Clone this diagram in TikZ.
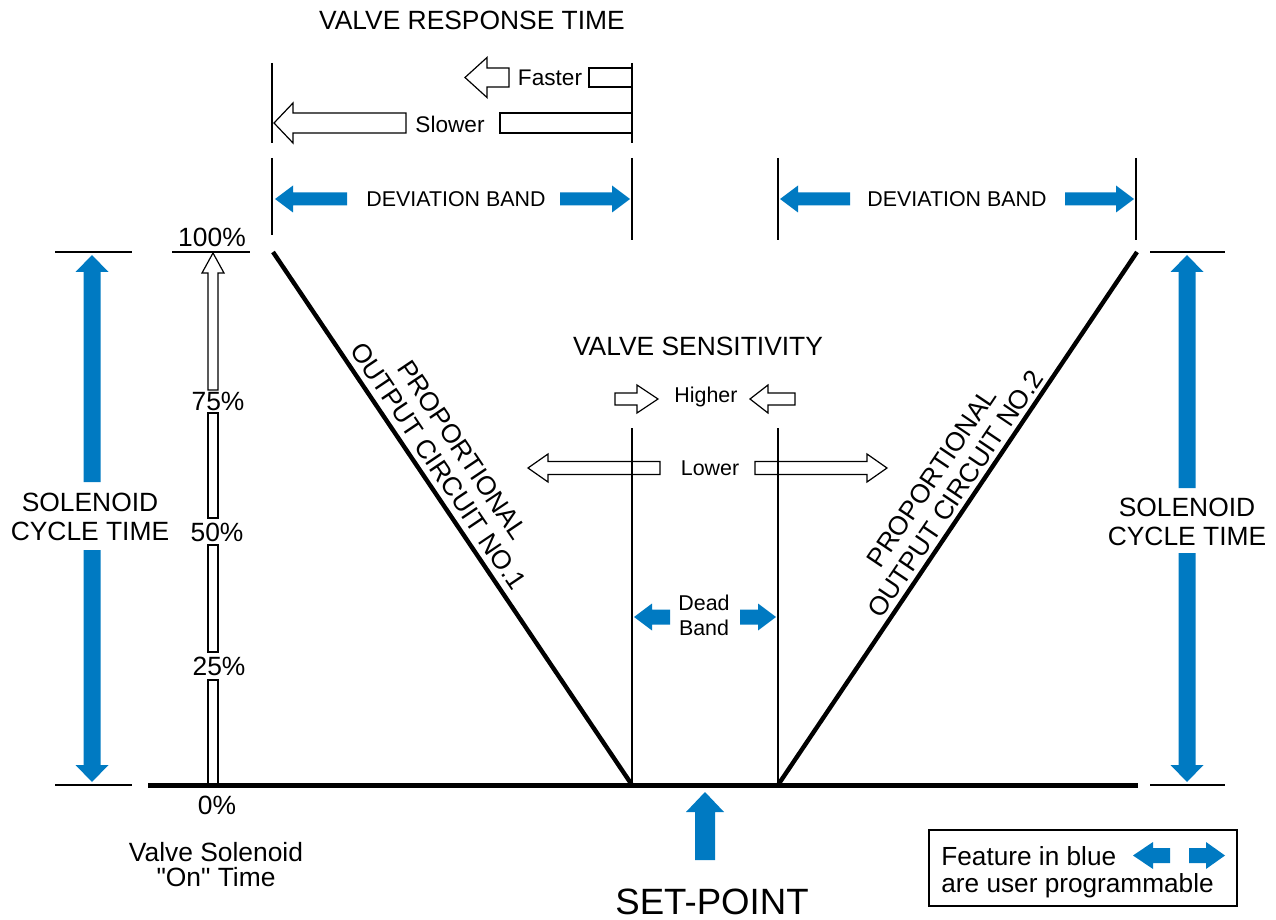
\documentclass[tikz,border=0pt]{standalone}
\usepackage{fontspec}
\setmainfont{Liberation Sans}[Ligatures=TeXOff]
\usepackage{tikz}
\definecolor{progblue}{RGB}{0,122,194}
\newcommand{\txtbig}{\fontsize{13.2}{14.5}\selectfont}
\newcommand{\txtmed}{\fontsize{10.7}{12.5}\selectfont}
\newcommand{\txtset}{\fontsize{18.3}{20}\selectfont}

\begin{document}
\begin{tikzpicture}[x=0.5pt,y=-0.5pt,
  bluearrow/.style={fill=progblue,draw=none},
  hollow/.style={draw,line width=0.6pt,fill=white,line join=miter},
  guide/.style={line width=0.6pt},
  circuitline/.style={line width=2.2pt},
  axisline/.style={line width=2.5pt},
  lbl/.style={font=\txtbig,inner sep=0pt,align=center},
  lblmed/.style={font=\txtmed,inner sep=0pt,align=center}]
\useasboundingbox (0,0) rectangle (1276,920);
% response time arrows
\draw [hollow] (465,77.5) -- (487,57.5) -- (487,68) -- (509,68) -- (509,87) -- (487,87) -- (487,97.5) -- cycle;
\draw [hollow] (589,68) rectangle (632,87);
\draw [hollow] (274,123) -- (293,103) -- (293,113) -- (406,113) -- (406,133) -- (293,133) -- (293,143) -- cycle;
\draw [hollow] (500,113) rectangle (632,133);
\draw [guide] (272,63) -- (272,143);
\draw [guide] (632,63) -- (632,143);
% deviation bands
\draw [guide] (272,158) -- (272,235);
\draw [guide] (632,158) -- (632,240);
\draw [guide] (778,158) -- (778,240);
\draw [guide] (1136,158) -- (1136,240);
\fill [bluearrow] (275,199) -- (293,185.5) -- (293,192.5) -- (347,192.5) -- (347,205.5) -- (293,205.5) -- (293,212.5) -- cycle;
\fill [bluearrow] (560,192.5) -- (612,192.5) -- (612,185.5) -- (630,199) -- (612,212.5) -- (612,205.5) -- (560,205.5) -- cycle;
\fill [bluearrow] (780,199) -- (798,185.5) -- (798,192.5) -- (850,192.5) -- (850,205.5) -- (798,205.5) -- (798,212.5) -- cycle;
\fill [bluearrow] (1065,192.5) -- (1116,192.5) -- (1116,185.5) -- (1134,199) -- (1116,212.5) -- (1116,205.5) -- (1065,205.5) -- cycle;
% sensitivity arrows
\draw [hollow] (615,393) -- (637,393) -- (637,385) -- (658,399) -- (637,413) -- (637,405) -- (615,405) -- cycle;
\draw [hollow] (750,399) -- (768,385) -- (768,393) -- (795,393) -- (795,405) -- (768,405) -- (768,413) -- cycle;
\draw [hollow] (528,468) -- (548,454) -- (548,461.5) -- (660,461.5) -- (660,474.5) -- (548,474.5) -- (548,482) -- cycle;
\draw [hollow] (755,461.5) -- (867,461.5) -- (867,454) -- (887,468) -- (867,482) -- (867,474.5) -- (755,474.5) -- cycle;
\draw [guide] (632,428) -- (632,785);
\draw [guide] (778,428) -- (778,785);
% dead band
\fill [bluearrow] (634,617) -- (652,603.5) -- (652,609.5) -- (670,609.5) -- (670,624.5) -- (652,624.5) -- (652,630.5) -- cycle;
\fill [bluearrow] (740,609.5) -- (758,609.5) -- (758,603.5) -- (776,617) -- (758,630.5) -- (758,624.5) -- (740,624.5) -- cycle;
% on time scale
\draw [hollow] (213,253) -- (224,273) -- (218,273) -- (218,390) -- (208,390) -- (208,273) -- (202,273) -- cycle;
\draw [hollow] (208,413) rectangle (218,518);
\draw [hollow] (208,545) rectangle (218,652);
\draw [hollow] (208,680) rectangle (218,785);
% cycle time
\draw [guide] (55,252) -- (132,252);
\draw [guide] (172,252) -- (250,252);
\draw [guide] (55,785) -- (132,785);
\draw [guide] (1150,252) -- (1225,252);
\draw [guide] (1150,785) -- (1225,785);
\fill [bluearrow] (92,255) -- (108.5,272) -- (100.5,272) -- (100.5,482) -- (83.5,482) -- (83.5,272) -- (75.5,272) -- cycle;
\fill [bluearrow] (83.5,550) -- (100.5,550) -- (100.5,765) -- (108.5,765) -- (92,782) -- (75.5,765) -- (83.5,765) -- cycle;
\fill [bluearrow] (1187,255) -- (1203.5,272) -- (1195.5,272) -- (1195.5,488) -- (1178.5,488) -- (1178.5,272) -- (1170.5,272) -- cycle;
\fill [bluearrow] (1178.5,553) -- (1195.5,553) -- (1195.5,765) -- (1203.5,765) -- (1187,782) -- (1170.5,765) -- (1178.5,765) -- cycle;
% output circuits
\draw [axisline] (148,785) -- (1138,785);
\draw [circuitline] (273,252) -- node[pos=0.42,sloped,above,lbl,inner sep=3pt] (circone) {PROPORTIONAL\\OUTPUT CIRCUIT NO.1} (632,785);
\draw [circuitline] (778,785) -- node[pos=0.53,sloped,above,lbl,inner sep=2pt] (circtwo) {PROPORTIONAL\\OUTPUT CIRCUIT NO.2} (1137,252);
% set point
\fill [bluearrow] (705,792) -- (724,812) -- (715,812) -- (715,860) -- (695,860) -- (695,812) -- (686,812) -- cycle;
% legend
\draw [guide] (929,830) rectangle (1237,906);
\fill [bluearrow] (1133,855.5) -- (1153,842) -- (1153,848) -- (1170,848) -- (1170,863) -- (1153,863) -- (1153,869) -- cycle;
\fill [bluearrow] (1189,848) -- (1206,848) -- (1206,842) -- (1225,855.5) -- (1206,869) -- (1206,863) -- (1189,863) -- cycle;
% texts
\node [lbl] (resp) at (472,20) {VALVE RESPONSE TIME};
\node [lblmed,font=\fontsize{11.3}{12.5}\selectfont] (faster) at (550,78) {Faster};
\node [lblmed,font=\fontsize{11.3}{12.5}\selectfont] (slower) at (450,124) {Slower};
\node [lblmed] (devone) at (456,199) {DEVIATION BAND};
\node [lblmed] (devtwo) at (957,199) {DEVIATION BAND};
\node [lbl] (sens) at (698,346) {VALVE SENSITIVITY};
\node [lblmed] (higher) at (706,397) {Higher};
\node [lblmed] (lower) at (710,468) {Lower};
\node [lblmed] (dead) at (704,615) {Dead\\Band};
\node [lbl] (pcent) at (212,237) {100\%};
\node [lbl] (pseventy) at (218,401) {75\%};
\node [lbl] (pfifty) at (217,532) {50\%};
\node [lbl] (ptwenty) at (219,666) {25\%};
\node [lbl] (pzero) at (217,805) {0\%};
\node [lbl] (cycone) at (90,517) {SOLENOID\\CYCLE TIME};
\node [lbl] (cyctwo) at (1187,522) {SOLENOID\\CYCLE TIME};
\node [lbl,font=\fontsize{13.2}{12.5}\selectfont] (ontime) at (216,865) {Valve Solenoid\\"On" Time};
\node [lbl,font=\txtset] (setpt) at (712,902) {SET-POINT};
\node [lbl,font=\fontsize{13.1}{13.5}\selectfont,anchor=west,align=left] (legend) at (941,872) {Feature in blue\\are user programmable};
\end{tikzpicture}
\end{document}
